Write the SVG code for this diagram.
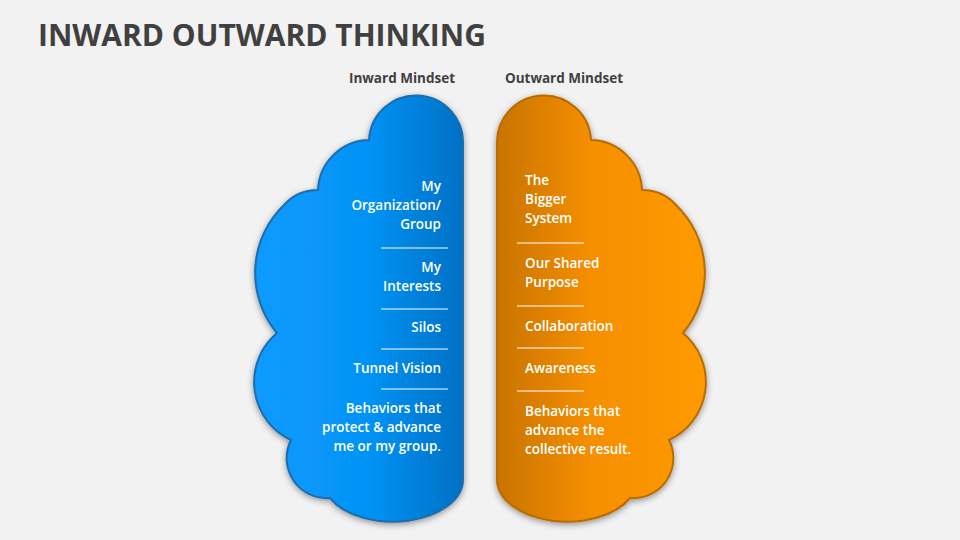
<svg xmlns="http://www.w3.org/2000/svg" width="960" height="540" viewBox="0 0 960 540">
<defs>
<linearGradient id="gb" x1="0" y1="0" x2="1" y2="0"><stop offset="0" stop-color="#0a9bff"/><stop offset="0.55" stop-color="#0593f5"/><stop offset="1" stop-color="#0070c4"/></linearGradient>
<linearGradient id="go" x1="0" y1="0" x2="1" y2="0"><stop offset="0" stop-color="#ff9a00"/><stop offset="0.55" stop-color="#f58f00"/><stop offset="1" stop-color="#c87300"/></linearGradient>
<filter id="sh" x="-10%" y="-10%" width="120%" height="120%"><feDropShadow dx="0" dy="2" stdDeviation="3" flood-opacity="0.4"/></filter>
<path id="half" d="M463,145 A47,47 0 0 0 369,140 A52,52 0 0 0 318,190 A45,45 0 0 0 284,205 A94,94 0 0 0 277,333 A64,64 0 0 0 291,440 A40,40 0 0 0 330,498 A70,42 0 0 0 463,480 Z"/>
</defs>
<style>
text{font-family:"Open Sans","Liberation Sans",sans-serif;}
.t{fill:#fff;font-size:13.5px;font-weight:600}
.h{fill:#404040;font-size:13.5px;font-weight:700}
.d{stroke:#fff;stroke-width:1}
</style>
<rect width="960" height="540" fill="#f2f2f2"/>
<text x="38" y="46" font-size="30" font-weight="700" fill="#404040">INWARD OUTWARD THINKING</text>
<g id="inward">
<text class="h" x="402" y="83" text-anchor="middle">Inward Mindset</text>
<use href="#half" fill="url(#gb)" stroke="#1a6db0" stroke-width="2" filter="url(#sh)"/>
<g class="t" text-anchor="end">
<text x="441" y="191">My</text><text x="441" y="210">Organization/</text><text x="441" y="229">Group</text>
<text x="441" y="272">My</text><text x="441" y="291">Interests</text>
<text x="441" y="332">Silos</text>
<text x="441" y="373">Tunnel Vision</text>
<text x="441" y="413">Behaviors that</text><text x="441" y="432">protect &amp; advance</text><text x="441" y="451">me or my group.</text>
</g>
<g class="d"><line x1="381" y1="248" x2="448" y2="248"/><line x1="381" y1="309" x2="448" y2="309"/><line x1="381" y1="349" x2="448" y2="349"/><line x1="381" y1="389" x2="448" y2="389"/></g>
</g>
<g id="outward">
<text class="h" x="564" y="83" text-anchor="middle">Outward Mindset</text>
<use href="#half" transform="translate(960,0) scale(-1,1)" fill="url(#go)" stroke="#b86c00" stroke-width="2" filter="url(#sh)"/>
<g class="t">
<text x="525" y="185">The</text><text x="525" y="204">Bigger</text><text x="525" y="223">System</text>
<text x="525" y="268">Our Shared</text><text x="525" y="287">Purpose</text>
<text x="525" y="331">Collaboration</text>
<text x="525" y="373">Awareness</text>
<text x="525" y="416">Behaviors that</text><text x="525" y="435">advance the</text><text x="525" y="454">collective result.</text>
</g>
<g class="d"><line x1="517" y1="243" x2="584" y2="243"/><line x1="517" y1="306" x2="584" y2="306"/><line x1="517" y1="348" x2="584" y2="348"/><line x1="517" y1="391" x2="584" y2="391"/></g>
</g>
<g id="connectors"/>
</svg>
